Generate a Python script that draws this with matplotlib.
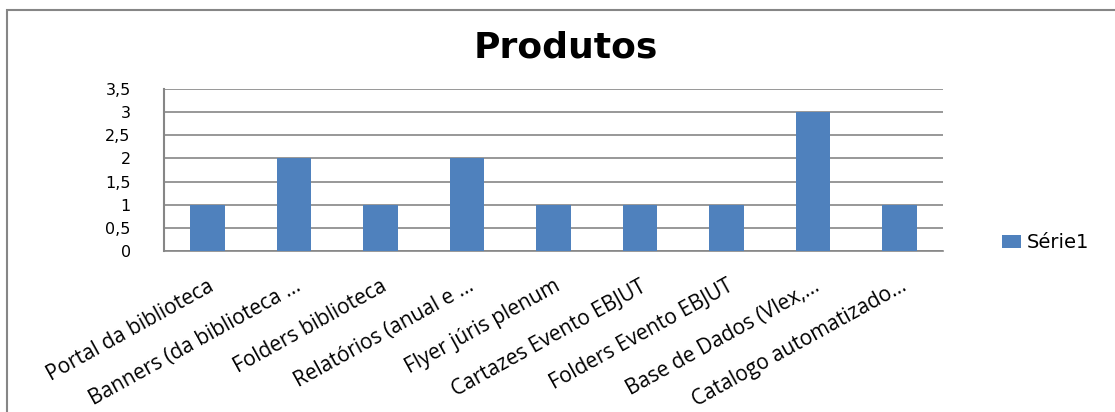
import matplotlib.pyplot as plt
from matplotlib.patches import Rectangle

categorias = ["Portal da biblioteca", "Banners (da biblioteca ...", "Folders biblioteca",
              "Relatórios (anual e ...", "Flyer júris plenum", "Cartazes Evento EBJUT",
              "Folders Evento EBJUT", "Base de Dados (Vlex,...", "Catalogo automatizado..."]
serie1 = [1, 2, 1, 2, 1, 1, 1, 3, 1]
yticks = [0, 0.5, 1, 1.5, 2, 2.5, 3, 3.5]
ylabels = ["0", "0,5", "1", "1,5", "2", "2,5", "3", "3,5"]

W, H = 1115, 412
fig = plt.figure(figsize=(W / 100, H / 100), dpi=100)

# outer chart border (cut off at right and bottom)
fig.patches.append(Rectangle((7 / W, -0.1), 1.2, (H - 10) / H + 0.1, transform=fig.transFigure,
                             fill=False, edgecolor="#868686", linewidth=1.5))

ax = fig.add_axes([164 / W, (H - 251) / H, (943 - 164) / W, (251 - 89) / H])
x = list(range(len(categorias)))
bars = ax.bar(x, serie1, width=0.40, color="#4f81bd", zorder=3, label="Série1")

ax.set_xlim(-0.5, len(categorias) - 0.5)
ax.set_ylim(0, 3.5)
ax.set_yticks(yticks)
ax.set_yticklabels(ylabels, fontsize=11.5, family="DejaVu Sans")
ax.set_xticks(x)
ax.set_xticklabels(categorias, rotation=29, ha="right", rotation_mode="anchor",
                   fontsize=15, family="Open Sans")
ax.tick_params(axis="x", length=0, pad=18)
ax.tick_params(axis="y", length=0, pad=24)
for lbl in ax.get_yticklabels():
    lbl.set_horizontalalignment("right")
ax.grid(axis="y", color="#868686", linewidth=1.2, zorder=0)
for s in ["top", "right"]:
    ax.spines[s].set_visible(False)
ax.spines["left"].set_color("#868686")
ax.spines["left"].set_linewidth(1.5)
ax.spines["bottom"].set_color("#868686")
ax.spines["bottom"].set_linewidth(1.2)

fig.text(566 / W, 1 - 47 / H, "Produtos", ha="center", va="center",
         fontsize=26, fontweight="bold", family="DejaVu Sans")

fig.legend(handles=[bars], labels=["Série1"], loc="center left",
           bbox_to_anchor=(984 / W, 1 - 243 / H), frameon=False,
           prop={"family": "DejaVu Sans", "size": 14},
           handlelength=1.0, handleheight=0.7, handletextpad=0.3)

fig.savefig("out.png", dpi=100)
